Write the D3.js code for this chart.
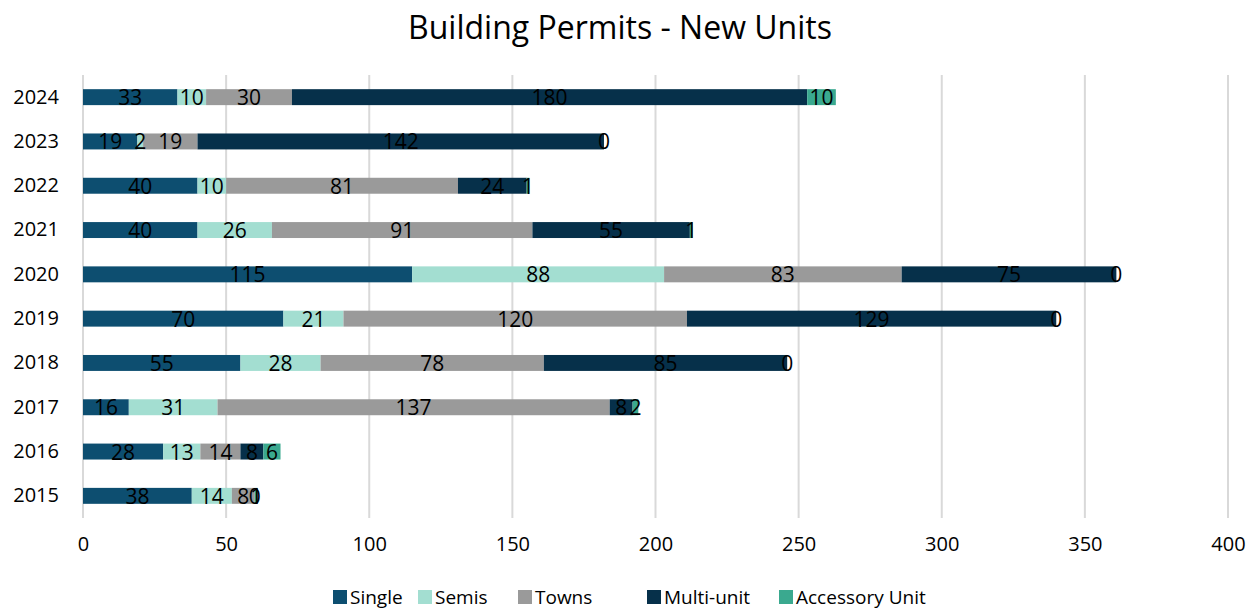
<!DOCTYPE html>
<html>
<head>
<meta charset="utf-8">
<script src="https://cdn.jsdelivr.net/npm/d3@7"></script>
<style>
  body { margin: 0; background: #fff; }
  text { font-family: "Open Sans", "Noto Sans", sans-serif; }
</style>
</head>
<body>
<svg id="chart" width="1255" height="611"></svg>
<script>
// --------------------------------------------------
// data

let years = ['2024', '2023', '2022', '2021', '2020', '2019', '2018', '2017', '2016', '2015'];
let series = ['Single', 'Semis', 'Towns', 'Multi-unit', 'Accessory Unit'];

let single    = [33, 19, 40, 40, 115, 70, 55, 16, 28, 38];
let semis     = [10, 2, 10, 26, 88, 21, 28, 31, 13, 14];
let towns     = [30, 19, 81, 91, 83, 120, 78, 137, 14, 8];
let multiUnit = [180, 142, 24, 55, 75, 129, 85, 8, 8, 0];
let accessory = [10, 0, 1, 1, 0, 0, 0, 2, 6, 1];

let xTicks = [0, 50, 100, 150, 200, 250, 300, 350, 400];
let colors = ['#0d4e70', '#a3ded1', '#9a9a9a', '#06304a', '#3aa98f'];

// --------------------------------------------------

let rows = years.map((y, i) => ({
  year: y,
  'Single': single[i],
  'Semis': semis[i],
  'Towns': towns[i],
  'Multi-unit': multiUnit[i],
  'Accessory Unit': accessory[i]
}));

let svg = d3.select('#chart');

let x = d3.scaleLinear().domain([0, 400]).range([83, 1228]);
let y = d3.scaleBand().domain(years).range([75, 518]).paddingInner(0.64).paddingOuter(0.32);
let color = d3.scaleOrdinal().domain(series).range(colors);

svg.append('text')
  .attr('x', 620).attr('y', 39)
  .attr('text-anchor', 'middle')
  .attr('font-size', 32)
  .text('Building Permits - New Units');

// vertical gridlines
svg.append('g')
  .selectAll('line')
  .data(xTicks)
  .join('line')
  .attr('x1', d => x(d)).attr('x2', d => x(d))
  .attr('y1', 75).attr('y2', 518)
  .attr('stroke', '#d9d9d9')
  .attr('stroke-width', 2);

// x axis labels
let xAxis = svg.append('g')
  .attr('transform', 'translate(0,' + 527 + ')')
  .call(d3.axisBottom(x).tickValues(xTicks).tickSize(0).tickPadding(10));
xAxis.select('.domain').remove();
xAxis.selectAll('text').attr('font-size', 20).attr('fill', '#000')
  .style('font-family', '"Open Sans", "Noto Sans", sans-serif');

// y axis labels
let yAxis = svg.append('g')
  .attr('transform', 'translate(59,0)')
  .call(d3.axisLeft(y).tickSize(0).tickPadding(0));
yAxis.select('.domain').remove();
yAxis.selectAll('text').attr('font-size', 20).attr('fill', '#000')
  .style('font-family', '"Open Sans", "Noto Sans", sans-serif');

let stacked = d3.stack().keys(series)(rows);

let layer = svg.append('g')
  .selectAll('g')
  .data(stacked)
  .join('g')
  .attr('fill', d => color(d.key));

layer.selectAll('rect')
  .data(d => d)
  .join('rect')
  .attr('x', d => x(d[0]))
  .attr('y', d => y(d.data.year))
  .attr('width', d => x(d[1]) - x(d[0]))
  .attr('height', y.bandwidth());

// data labels
svg.append('g')
  .selectAll('g')
  .data(stacked)
  .join('g')
  .selectAll('text')
  .data(d => d)
  .join('text')
  .attr('x', d => (x(d[0]) + x(d[1])) / 2)
  .attr('y', d => y(d.data.year) + y.bandwidth() / 2)
  .attr('dy', '0.38em')
  .attr('text-anchor', 'middle')
  .attr('font-size', 21)
  .attr('fill', '#000')
  .text(d => d[1] - d[0]);

// legend (kept inside the picture)
let legendX = [333, 418, 518, 647, 779];
let legend = svg.append('g')
  .selectAll('g')
  .data(series)
  .join('g')
  .attr('transform', (d, i) => 'translate(' + legendX[i] + ',597)');

legend.append('rect')
  .attr('x', 0).attr('y', -7)
  .attr('width', 14).attr('height', 14)
  .attr('fill', d => color(d));

legend.append('text')
  .attr('x', 17).attr('dy', '0.36em')
  .attr('font-size', 19)
  .text(d => d);
</script>
</body>
</html>
